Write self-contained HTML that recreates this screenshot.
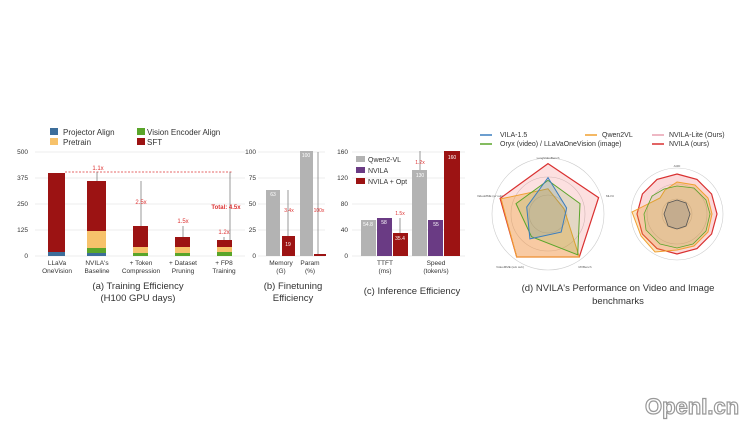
<!DOCTYPE html>
<html><head><meta charset="utf-8"><style>
body{margin:0;background:#fff;}
svg{display:block;font-family:"Liberation Sans",sans-serif;}
</style></head><body>
<svg width="750" height="421" viewBox="0 0 750 421" xmlns="http://www.w3.org/2000/svg">
<rect width="750" height="421" fill="#fff"/>
<!-- Panel a -->
<g font-size="7" fill="#333">
<rect x="50" y="128" width="8" height="7" fill="#3d6e9a"/><text x="63" y="135" font-size="8">Projector Align</text>
<rect x="50" y="138" width="8" height="7" fill="#f7c26b"/><text x="63" y="145" font-size="8">Pretrain</text>
<rect x="137" y="128" width="8" height="7" fill="#5aa52a"/><text x="147" y="135" font-size="8">Vision Encoder Align</text>
<rect x="137" y="138" width="8" height="7" fill="#9c1313"/><text x="147" y="145" font-size="8">SFT</text>
<g stroke="#ddd" stroke-width="0.6"><line x1="35" y1="152" x2="245" y2="152"/><line x1="35" y1="178" x2="245" y2="178"/><line x1="35" y1="204" x2="245" y2="204"/><line x1="35" y1="230" x2="245" y2="230"/><line x1="35" y1="256" x2="245" y2="256"/></g>
<g text-anchor="end" font-size="6.5"><text x="28" y="154">500</text><text x="28" y="180">375</text><text x="28" y="206">250</text><text x="28" y="232">125</text><text x="28" y="258">0</text></g>
<rect x="48" y="173" width="17" height="83" fill="#9c1313"/><rect x="48" y="252" width="17" height="4" fill="#3d6e9a"/>
<rect x="87" y="181" width="19" height="50" fill="#9c1313"/><rect x="87" y="231" width="19" height="17" fill="#f7c26b"/><rect x="87" y="248" width="19" height="5" fill="#5aa52a"/><rect x="87" y="253" width="19" height="3" fill="#3d6e9a"/>
<rect x="133" y="226" width="15" height="21" fill="#9c1313"/><rect x="133" y="247" width="15" height="6" fill="#f7c26b"/><rect x="133" y="253" width="15" height="3" fill="#5aa52a"/>
<rect x="175" y="237" width="15" height="10" fill="#9c1313"/><rect x="175" y="247" width="15" height="6" fill="#f7c26b"/><rect x="175" y="253" width="15" height="3" fill="#5aa52a"/>
<rect x="217" y="240" width="15" height="7" fill="#9c1313"/><rect x="217" y="247" width="15" height="5" fill="#f7c26b"/><rect x="217" y="252" width="15" height="4" fill="#5aa52a"/>
<line x1="65" y1="172" x2="232" y2="172" stroke="#d33" stroke-dasharray="2,1.5" stroke-width="0.8"/>
<g stroke="#555" stroke-width="0.6"><line x1="97" y1="172" x2="97" y2="181"/><line x1="141" y1="181" x2="141" y2="226"/><line x1="183" y1="226" x2="183" y2="237"/><line x1="224" y1="237" x2="224" y2="240"/><line x1="230" y1="172" x2="230" y2="240"/></g>
<g fill="#d33" font-size="6" text-anchor="middle"><text x="98" y="170">1.1x</text><text x="141" y="204">2.5x</text><text x="183" y="223">1.5x</text><text x="224" y="234">1.2x</text><text x="226" y="209" font-weight="bold">Total: 4.5x</text></g>
<g text-anchor="middle" font-size="6.5"><text x="57" y="265">LLaVa</text><text x="57" y="273">OneVision</text><text x="97" y="265">NVILA's</text><text x="97" y="273">Baseline</text><text x="141" y="265">+ Token</text><text x="141" y="273">Compression</text><text x="183" y="265">+ Dataset</text><text x="183" y="273">Pruning</text><text x="224" y="265">+ FP8</text><text x="224" y="273">Training</text></g>
<g text-anchor="middle" font-size="9.5"><text x="138" y="289">(a) Training Efficiency</text><text x="138" y="301">(H100 GPU days)</text></g>
</g>
<!-- Panel b -->
<g font-size="6.5" fill="#333">
<g stroke="#ddd" stroke-width="0.6"><line x1="258" y1="152" x2="325" y2="152"/><line x1="258" y1="178" x2="325" y2="178"/><line x1="258" y1="204" x2="325" y2="204"/><line x1="258" y1="230" x2="325" y2="230"/><line x1="258" y1="256" x2="325" y2="256"/></g>
<g text-anchor="end"><text x="256" y="154">100</text><text x="256" y="180">75</text><text x="256" y="206">50</text><text x="256" y="232">25</text><text x="256" y="258">0</text></g>
<rect x="266" y="190" width="14" height="66" fill="#b3b3b3"/><rect x="282" y="236" width="13" height="20" fill="#9c1313"/>
<rect x="300" y="151" width="13" height="105" fill="#b3b3b3"/><rect x="314" y="254" width="12" height="2" fill="#9c1313"/>
<g stroke="#555" stroke-width="0.6"><line x1="288" y1="190" x2="288" y2="236"/><line x1="318" y1="152" x2="318" y2="254"/></g>
<g fill="#fff" font-size="5" text-anchor="middle"><text x="273" y="196">63</text><text x="288" y="246">19</text><text x="306" y="157">100</text></g>
<g fill="#d33" font-size="5" text-anchor="middle"><text x="289" y="212">3.4x</text><text x="319" y="212">100x</text></g>
<g text-anchor="middle"><text x="281" y="265">Memory</text><text x="281" y="273">(G)</text><text x="310" y="265">Param</text><text x="310" y="273">(%)</text></g>
<g text-anchor="middle" font-size="9.5"><text x="293" y="289">(b) Finetuning</text><text x="293" y="301">Efficiency</text></g>
</g>
<!-- Panel c -->
<g font-size="6.5" fill="#333">
<g stroke="#ddd" stroke-width="0.6"><line x1="352" y1="152" x2="465" y2="152"/><line x1="352" y1="178" x2="465" y2="178"/><line x1="352" y1="204" x2="465" y2="204"/><line x1="352" y1="230" x2="465" y2="230"/><line x1="352" y1="256" x2="465" y2="256"/></g>
<g text-anchor="end"><text x="348" y="154">160</text><text x="348" y="180">120</text><text x="348" y="206">80</text><text x="348" y="232">40</text><text x="348" y="258">0</text></g>
<rect x="361" y="220" width="15" height="36" fill="#b3b3b3"/><rect x="377" y="218" width="15" height="38" fill="#6a3b84"/><rect x="393" y="233" width="15" height="23" fill="#9c1313"/>
<rect x="412" y="170" width="15" height="86" fill="#b3b3b3"/><rect x="428" y="220" width="15" height="36" fill="#6a3b84"/><rect x="444" y="151" width="16" height="105" fill="#9c1313"/>
<g stroke="#555" stroke-width="0.6"><line x1="400" y1="218" x2="400" y2="233"/><line x1="420" y1="151" x2="420" y2="170"/></g>
<g fill="#fff" font-size="5" text-anchor="middle"><text x="368" y="226">54.8</text><text x="384" y="224">58</text><text x="400" y="240">35.4</text><text x="420" y="177">130</text><text x="436" y="226">55</text><text x="452" y="159">160</text></g>
<g fill="#d33" font-size="5" text-anchor="middle"><text x="400" y="215">1.5x</text><text x="420" y="164">1.2x</text></g>
<rect x="356" y="156" width="9" height="6" fill="#b3b3b3"/><text x="368" y="162" font-size="7">Qwen2-VL</text>
<rect x="356" y="167" width="9" height="6" fill="#6a3b84"/><text x="368" y="173" font-size="7">NVILA</text>
<rect x="356" y="178" width="9" height="6" fill="#9c1313"/><text x="368" y="184" font-size="7">NVILA + Opt</text>
<g text-anchor="middle"><text x="385" y="265">TTFT</text><text x="385" y="273">(ms)</text><text x="436" y="265">Speed</text><text x="436" y="273">(token/s)</text></g>
<text x="412" y="294" text-anchor="middle" font-size="9.5">(c) Inference Efficiency</text>
</g>
<!-- Panel d -->
<g font-size="7" fill="#333">
<line x1="480" y1="135" x2="492" y2="135" stroke="#3a7dbf" stroke-width="1.5"/><text x="500" y="137">VILA-1.5</text>
<line x1="480" y1="144" x2="492" y2="144" stroke="#5aa52a" stroke-width="1.5"/><text x="500" y="146">Oryx (video) / LLaVaOneVision (image)</text>
<line x1="585" y1="135" x2="597" y2="135" stroke="#f0a030" stroke-width="1.5"/><text x="602" y="137">Qwen2VL</text>
<line x1="652" y1="135" x2="664" y2="135" stroke="#e8a0b0" stroke-width="1.5"/><text x="669" y="137">NVILA-Lite (Ours)</text>
<line x1="652" y1="144" x2="664" y2="144" stroke="#d93030" stroke-width="1.5"/><text x="669" y="146">NVILA (ours)</text>
<g fill="none" stroke="#ccc" stroke-width="0.6"><circle cx="548" cy="214" r="56"/><circle cx="548" cy="214" r="37"/><circle cx="548" cy="214" r="19"/><circle cx="677" cy="214" r="46"/><circle cx="677" cy="214" r="30"/><circle cx="677" cy="214" r="15"/></g>
<polygon points="548,163.6 598.6,197.6 579.3,257 516.7,257 500.1,198.4" fill="#e66" fill-opacity="0.2" stroke="#d93030" stroke-width="1.2"/>
<polygon points="548,188.8 564,208.8 579.3,257 516.7,257 501.1,198.8" fill="#f0a030" fill-opacity="0.35" stroke="#f0a030" stroke-width="1"/>
<polygon points="548,180.4 580,203.6 577.7,254.8 531.5,236.7 516,203.6" fill="#5aa52a" fill-opacity="0.15" stroke="#5aa52a" stroke-width="1"/>
<polygon points="548,177.6 566.6,208 561.2,232.1 529.9,238.9 526.7,207" fill="#3a7dbf" fill-opacity="0.15" stroke="#3a7dbf" stroke-width="1"/>
<polygon points="677,174 697,179.4 711.6,194 717,214 711.6,234 697,248.6 677,254 657,248.6 642.4,234 637,214 642.4,194 657,179.4" fill="#e66" fill-opacity="0.25" stroke="#d93030" stroke-width="1.2"/>
<polygon points="677,182 695,185 708,198 712,214 708,232 694,246 677,250 655,252 641,236 632,212 660,198 665,190" fill="#f0a030" fill-opacity="0.3" stroke="#f0a030" stroke-width="1"/>
<polygon points="677,186 694,188 706,200 710,214 706,231 693,244 677,248 660,244 646,230 644,214 652,196 664,189" fill="#5aa52a" fill-opacity="0.1" stroke="#5aa52a" stroke-width="0.8"/>
<polygon points="677,200 686,203 690,214 686,226 677,229 668,226 664,214 668,203" fill="#777" fill-opacity="0.3" stroke="#555" stroke-width="0.8"/>
<g font-size="3" fill="#555" text-anchor="middle"><text x="548" y="159">LongVideoBench</text><text x="610" y="197">MLVU</text><text x="585" y="268">MVBench</text><text x="510" y="268">VideoMME (w/o sub)</text><text x="490" y="197">VideoMME (w/ sub)</text><text x="677" y="167">AI2D</text></g>
<g text-anchor="middle" font-size="9.5"><text x="618" y="291">(d) NVILA's Performance on Video and Image</text><text x="618" y="304">benchmarks</text></g>
</g>
<text x="645" y="414" font-size="22" fill="#fff" stroke="#999" stroke-width="1.2" font-weight="bold">OpenI.cn</text>
</svg>
</body></html>
